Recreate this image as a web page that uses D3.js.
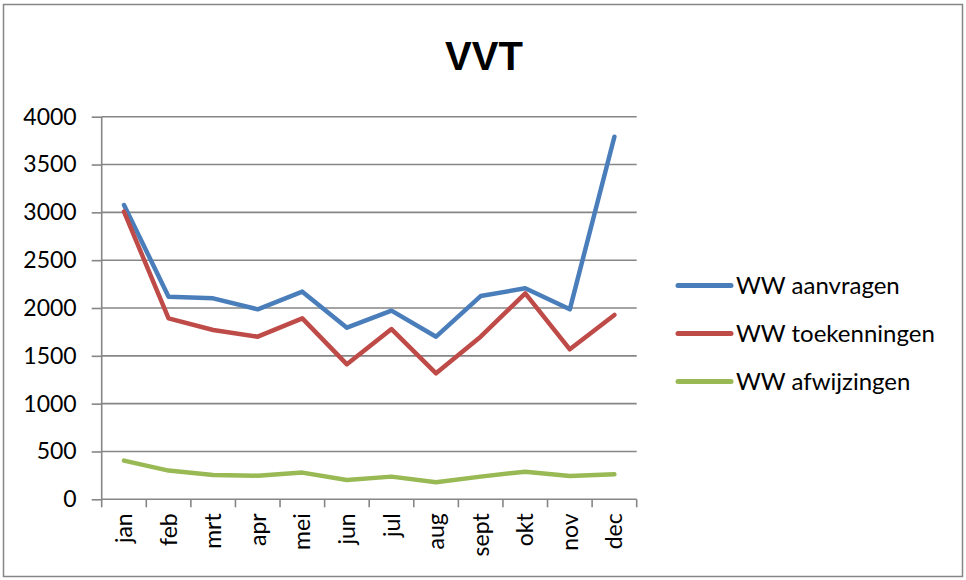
<!DOCTYPE html>
<html>
<head>
<meta charset="utf-8">
<script src="https://cdn.jsdelivr.net/npm/d3@7"></script>
<style>
  html, body { margin: 0; padding: 0; background: #fff; }
  svg { display: block; }
  text { font-family: Lato, "Open Sans", sans-serif; fill: #000; }
</style>
</head>
<body>
<svg id="chart" width="966" height="580"></svg>
<script>
const months = ["jan","feb","mrt","apr","mei","jun","jul","aug","sept","okt","nov","dec"];
const aanvragen    = [3077, 2118, 2101, 1986, 2171, 1794, 1972, 1700, 2125, 2206, 1986, 3791];
const toekenningen = [3007, 1892, 1770, 1700, 1892, 1411, 1780, 1317, 1700, 2153, 1568, 1927];
const afwijzingen  = [404, 300, 254, 247, 279, 202, 237, 178, 237, 289, 244, 261];
const yTicks = [0, 500, 1000, 1500, 2000, 2500, 3000, 3500, 4000];
const seriesNames = ["WW aanvragen", "WW toekenningen", "WW afwijzingen"];
const seriesColors = ["#4A7EBB", "#BE4B48", "#98B954"];

const series = [aanvragen, toekenningen, afwijzingen];

const svg = d3.select("#chart");
const gridColor = "#868686";

// outer border
svg.append("rect")
  .attr("x", 3.5).attr("y", 4.5).attr("width", 959).attr("height", 572)
  .attr("fill", "#fff").attr("stroke", gridColor).attr("stroke-width", 1.5);

// title
svg.append("text")
  .attr("x", 484).attr("y", 69.5)
  .attr("text-anchor", "middle")
  .style("font-family", "'Liberation Sans', Arial, sans-serif")
  .style("font-weight", "bold")
  .style("font-size", "40px")
  .text("VVT");

const pLeft = 101.7, pRight = 636.7, pTop = 116.7, pBottom = 499.3;

const x = d3.scaleBand().domain(months).range([pLeft, pRight]);
const y = d3.scaleLinear().domain([0, 4000]).range([pBottom, pTop]);

// gridlines
svg.append("g")
  .selectAll("line")
  .data(yTicks.filter(d => d > 0))
  .join("line")
  .attr("x1", pLeft).attr("x2", pRight)
  .attr("y1", d => y(d)).attr("y2", d => y(d))
  .attr("stroke", gridColor).attr("stroke-width", 1.6);

// y axis
const yAxis = d3.axisLeft(y).tickValues(yTicks).tickSize(10).tickPadding(15).tickFormat(d3.format("d"));
const gy = svg.append("g").attr("transform", `translate(${pLeft},0)`).call(yAxis);
gy.select(".domain").attr("stroke", gridColor).attr("stroke-width", 1.6)
  .attr("d", `M0,${pBottom}V${pTop}`);
gy.selectAll(".tick line").attr("stroke", gridColor).attr("stroke-width", 1.6);
gy.selectAll(".tick text").style("font-size", "23px").style("font-family", "Lato, sans-serif").attr("fill", "#000");

// x axis
const xAxis = d3.axisBottom(x).tickSize(0).tickPadding(0);
const gx = svg.append("g").attr("transform", `translate(0,${pBottom})`).call(xAxis);
gx.select(".domain").attr("stroke", gridColor).attr("stroke-width", 1.6)
  .attr("d", `M${pLeft},0H${pRight}`);
gx.selectAll(".tick text")
  .style("font-size", "23px").style("font-family", "Lato, sans-serif").attr("fill", "#000")
  .attr("text-anchor", "end")
  .attr("y", 0)
  .attr("dy", "0.35em")
  .attr("transform", "translate(0,14) rotate(-90)");
// tick marks at band boundaries
const boundaries = months.map(m => x(m)).concat([pRight]);
gx.append("g").selectAll("line")
  .data(boundaries)
  .join("line")
  .attr("x1", d => d).attr("x2", d => d)
  .attr("y1", 0).attr("y2", 8)
  .attr("stroke", gridColor).attr("stroke-width", 1.6);

// lines
const line = d3.line()
  .x((d, i) => x(months[i]) + x.bandwidth() / 2)
  .y(d => y(d));

svg.append("g").selectAll("path")
  .data(series)
  .join("path")
  .attr("d", d => line(d))
  .attr("fill", "none")
  .attr("stroke", (d, i) => seriesColors[i])
  .attr("stroke-width", 4.5)
  .attr("stroke-linejoin", "round")
  .attr("stroke-linecap", "round");

// legend
const legend = svg.append("g");
const lg = legend.selectAll("g")
  .data(seriesNames)
  .join("g")
  .attr("transform", (d, i) => `translate(0,${285.5 + i * 48})`);
lg.append("line")
  .attr("x1", 678).attr("x2", 731)
  .attr("y1", 0).attr("y2", 0)
  .attr("stroke", (d, i) => seriesColors[i])
  .attr("stroke-width", 5)
  .attr("stroke-linecap", "round");
lg.append("text")
  .attr("x", 736).attr("y", 0).attr("dy", "0.35em")
  .style("font-size", "24px")
  .text(d => d);
</script>
</body>
</html>
